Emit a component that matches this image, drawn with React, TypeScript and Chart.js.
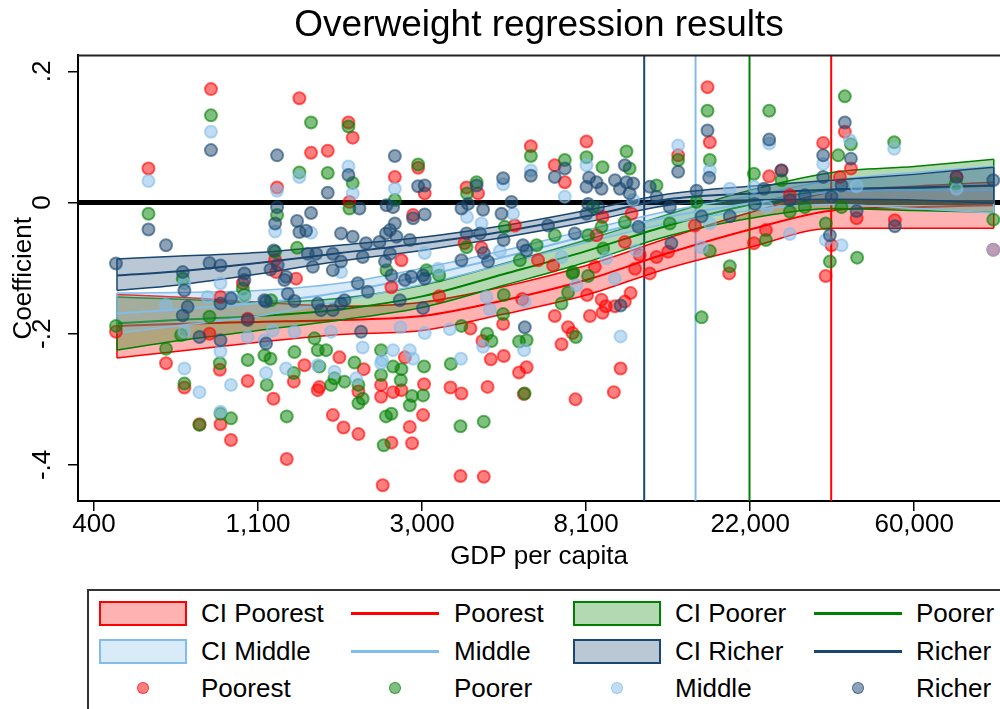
import { useEffect, useRef } from 'react';
import { Chart, registerables } from 'chart.js';

Chart.register(...registerables);

const FONT = "'Liberation Sans', Arial, sans-serif";

// Colours (r,g,b)
const RED = '255,0,0';
const GREEN = '0,128,0';
const LTBLUE = '130,188,232';
const NAVY = '26,71,111';

// Axis ticks: log GDP per capita, labelled in dollars
const xTickValues = [6, 7, 8, 9, 10, 11];
const xTickLabels = ['400', '1,100', '3,000', '8,100', '22,000', '60,000'];
const yTickValues = [-0.4, -0.2, 0, 0.2];
const yTickLabels = ['-.4', '-.2', '0', '.2'];

// Turning points (log GDP) for richer, middle, poorer, poorest
const thresholdX = [9.354, 9.667, 9.996, 10.494];

// Fitted curves and confidence bands on a log-GDP grid
const fitX = [6.14, 6.5, 7.0, 7.5, 8.0, 8.5, 9.0, 9.5, 10.0, 10.5, 11.0, 11.485];

const poorestHi = [-0.140, -0.144, -0.152, -0.158, -0.152, -0.128, -0.096, -0.054, -0.015, 0.016, 0.025, 0.031];
const poorestFit = [-0.188, -0.185, -0.182, -0.179, -0.173, -0.149, -0.118, -0.077, -0.041, -0.012, -0.007, -0.004];
const poorestLo = [-0.237, -0.227, -0.213, -0.201, -0.195, -0.170, -0.141, -0.100, -0.068, -0.039, -0.039, -0.039];

const poorerHi = [-0.144, -0.147, -0.152, -0.146, -0.126, -0.093, -0.057, -0.018, 0.019, 0.046, 0.055, 0.066];
const poorerFit = [-0.184, -0.179, -0.173, -0.163, -0.143, -0.109, -0.074, -0.035, -0.003, 0.019, 0.022, 0.026];
const poorerLo = [-0.225, -0.211, -0.195, -0.179, -0.160, -0.126, -0.091, -0.051, -0.024, -0.009, -0.012, -0.015];

const middleHi = [-0.138, -0.137, -0.134, -0.123, -0.100, -0.073, -0.042, -0.013, 0.010, 0.034, 0.046, 0.055];
const middleFit = [-0.169, -0.163, -0.153, -0.137, -0.112, -0.083, -0.051, -0.022, -0.001, 0.016, 0.019, 0.019];
const middleLo = [-0.199, -0.188, -0.173, -0.150, -0.125, -0.094, -0.061, -0.032, -0.012, -0.003, -0.009, -0.016];

const richerHi = [-0.086, -0.082, -0.076, -0.065, -0.053, -0.035, -0.012, 0.013, 0.025, 0.034, 0.043, 0.054];
const richerFit = [-0.111, -0.105, -0.092, -0.077, -0.062, -0.044, -0.021, 0.005, 0.014, 0.020, 0.023, 0.026];
const richerLo = [-0.134, -0.126, -0.109, -0.089, -0.073, -0.053, -0.030, -0.004, 0.004, 0.005, 0.004, -0.001];

// Country coefficients: [log GDP per capita, coefficient]
const poorestPts: [number, number][] = [
  [6.134, -0.197], [6.332, 0.052], [6.439, -0.245], [6.551, -0.282], [6.643, -0.338], [6.713, 0.173], [6.771, -0.338],
  [6.835, -0.362], [6.767, -0.255], [6.704, -0.200], [6.771, -0.144], [6.907, -0.123], [6.937, -0.177], [6.937, -0.272],
  [7.094, -0.299], [7.116, 0.023], [7.104, -0.087], [7.110, -0.106], [7.218, -0.273], [7.175, -0.391], [7.252, 0.159],
  [7.323, 0.076], [7.425, 0.079], [7.551, 0.122], [7.577, 0.099], [7.557, 0.001], [7.283, -0.248], [7.364, -0.286],
  [7.374, -0.281], [7.496, -0.236], [7.456, -0.324], [7.521, -0.343], [7.612, -0.353], [7.612, -0.288], [7.644, -0.254],
  [7.750, -0.278], [7.750, -0.296], [7.760, -0.431], [7.232, -0.116], [7.834, 0.039], [7.976, 0.053], [8.016, 0.014],
  [7.945, -0.019], [7.874, -0.088], [7.813, -0.129], [7.813, -0.366], [7.939, -0.367], [7.925, -0.342], [8.006, -0.324],
  [8.012, -0.277], [7.874, -0.286], [7.823, -0.289], [7.895, -0.236], [8.104, -0.143], [8.271, 0.023], [8.341, 0.014],
  [8.259, -0.062], [8.362, -0.069], [8.173, -0.282], [8.240, -0.291], [8.399, -0.281], [8.234, -0.417], [8.376, -0.418],
  [8.419, -0.239], [8.498, -0.234], [8.368, -0.211], [8.295, -0.192], [8.494, -0.185], [8.610, -0.147], [8.565, -0.035],
  [8.663, 0.086], [8.809, 0.057], [8.870, 0.031], [8.809, -0.173], [8.850, -0.216], [8.890, -0.190], [8.917, -0.199],
  [8.935, -0.300], [9.023, -0.173], [9.006, -0.141], [8.591, -0.259], [8.637, -0.251], [8.620, -0.292], [8.707, -0.088],
  [8.799, -0.096], [9.002, 0.093], [9.100, -0.022], [9.277, -0.017], [9.063, -0.050], [9.236, -0.060], [9.053, -0.098],
  [9.327, -0.080], [9.298, -0.101], [9.388, -0.108], [9.429, -0.083], [9.500, -0.075], [9.561, 0.072], [9.094, -0.148],
  [9.100, -0.168], [9.120, -0.158], [9.176, -0.158], [9.236, -0.151], [9.271, -0.138], [9.210, -0.253], [9.169, -0.289],
  [9.663, -0.035], [9.740, 0.176], [9.754, 0.092], [9.872, -0.108], [10.023, -0.062], [10.096, -0.042], [10.116, 0.040],
  [10.191, 0.049], [10.242, 0.011], [10.445, 0.091], [10.547, 0.039], [10.577, 0.108], [10.614, 0.052], [10.649, -0.024],
  [10.496, -0.065], [10.460, -0.112], [10.882, -0.027], [11.258, 0.039], [11.482, -0.072],
];

const poorerPts: [number, number][] = [
  [6.134, -0.188], [6.332, -0.017], [6.439, -0.223], [6.541, -0.116], [6.551, -0.276], [6.531, -0.202], [6.643, -0.339],
  [6.704, -0.174], [6.713, 0.133], [6.767, -0.245], [6.771, -0.322], [6.835, -0.329], [6.907, -0.131], [6.917, -0.141],
  [6.937, -0.240], [7.039, -0.233], [7.053, -0.278], [7.076, -0.238], [7.079, -0.149], [7.222, -0.228], [7.218, -0.260],
  [7.175, -0.326], [7.116, -0.019], [7.104, -0.075], [7.238, -0.069], [7.252, 0.046], [7.323, 0.122], [7.425, 0.045],
  [7.551, 0.116], [7.577, 0.030], [7.557, -0.009], [7.344, -0.207], [7.364, -0.225], [7.374, -0.250], [7.415, -0.225],
  [7.445, -0.278], [7.466, -0.268], [7.527, -0.273], [7.612, -0.306], [7.612, -0.278], [7.638, -0.299], [7.588, -0.244],
  [7.750, -0.263], [7.750, -0.225], [7.780, -0.326], [7.766, -0.370], [7.834, 0.004], [7.976, 0.058], [7.783, -0.103],
  [8.027, -0.103], [8.104, -0.111], [7.813, -0.322], [7.925, -0.309], [7.939, -0.295], [8.006, -0.294], [7.870, -0.271],
  [7.874, -0.254], [8.012, -0.250], [7.823, -0.250], [8.234, -0.341], [8.376, -0.334], [8.175, -0.246], [8.423, -0.211],
  [8.396, -0.200], [8.240, -0.188], [8.494, -0.170], [8.498, -0.141], [8.274, 0.014], [8.332, 0.031], [8.271, -0.068],
  [8.591, -0.212], [8.637, -0.210], [8.625, -0.291], [8.504, -0.037], [8.596, -0.088], [8.663, 0.071], [8.870, 0.065],
  [8.809, -0.050], [8.698, -0.065], [8.850, -0.154], [8.937, -0.205], [8.890, -0.137], [8.917, -0.108], [9.012, -0.112],
  [9.002, 0.069], [9.100, 0.054], [9.246, 0.078], [9.265, 0.052], [9.043, -0.007], [9.236, -0.030], [9.012, -0.050],
  [9.094, -0.037], [9.104, -0.070], [8.921, -0.106], [9.429, 0.026], [9.510, -0.032], [9.561, 0.065], [9.673, 0.001],
  [9.740, 0.140], [9.754, 0.065], [9.754, -0.074], [9.704, -0.175], [9.876, -0.097], [10.023, 0.044], [10.116, 0.140],
  [10.096, -0.057], [10.242, -0.014], [10.333, -0.007], [10.191, 0.034], [10.537, 0.072], [10.577, 0.162], [10.614, 0.089],
  [10.557, -0.007], [10.461, -0.032], [10.486, -0.090], [10.652, -0.084], [10.878, 0.092], [11.254, 0.029], [11.482, -0.026],
];

const middlePts: [number, number][] = [
  [6.332, 0.033], [6.551, -0.253], [6.643, -0.289], [6.713, 0.108], [6.771, -0.319], [6.835, -0.278], [6.771, -0.227],
  [6.551, -0.123], [6.551, -0.197], [6.439, -0.156], [6.693, -0.144], [6.835, -0.146], [6.771, -0.123], [6.917, -0.144],
  [6.937, -0.205], [7.039, -0.210], [7.049, -0.260], [7.089, -0.195], [7.222, -0.197], [7.171, -0.253], [7.116, 0.018],
  [7.104, -0.044], [7.252, 0.039], [7.323, -0.046], [7.551, 0.055], [7.577, 0.014], [7.506, -0.106], [7.364, -0.248],
  [7.466, -0.258], [7.445, -0.197], [7.598, -0.268], [7.638, -0.221], [7.750, -0.245], [7.834, 0.021], [8.016, -0.077],
  [8.098, -0.101], [7.756, -0.240], [7.823, -0.225], [7.925, -0.225], [7.945, -0.238], [7.868, -0.190], [8.016, -0.199],
  [8.169, -0.193], [8.237, -0.238], [8.372, -0.220], [8.393, -0.144], [8.413, -0.163], [8.274, -0.022], [8.362, -0.032],
  [8.474, -0.074], [8.494, 0.028], [8.555, -0.017], [8.622, -0.225], [8.626, -0.151], [8.663, 0.049], [8.870, 0.009],
  [8.850, -0.083], [9.002, 0.057], [9.287, 0.004], [9.124, -0.085], [9.307, -0.073], [8.941, -0.126], [9.175, -0.116],
  [9.210, -0.204], [9.561, 0.087], [9.754, 0.049], [9.754, -0.032], [9.704, -0.068], [9.876, 0.021], [10.023, 0.024],
  [10.116, 0.090], [10.102, -0.007], [10.242, -0.048], [10.445, 0.059], [10.608, 0.095], [10.649, 0.025], [10.461, -0.057],
  [10.557, -0.065], [10.878, 0.082], [11.258, 0.021], [11.482, -0.072],
];

const richerPts: [number, number][] = [
  [6.134, -0.093], [6.332, -0.041], [6.439, -0.065], [6.713, 0.080], [6.704, -0.092], [6.771, -0.096], [6.541, -0.106],
  [6.917, -0.108], [6.541, -0.172], [6.571, -0.159], [6.551, -0.134], [6.643, -0.205], [6.771, -0.210], [6.771, -0.154],
  [6.835, -0.146], [6.917, -0.118], [6.937, -0.179], [7.039, -0.149], [7.049, -0.151], [7.049, -0.215], [7.116, 0.072],
  [7.116, -0.007], [7.104, -0.032], [7.096, -0.073], [7.076, -0.102], [7.120, -0.095], [7.171, -0.113], [7.161, -0.118],
  [7.181, -0.139], [7.222, -0.150], [7.238, -0.028], [7.252, -0.045], [7.293, -0.043], [7.323, -0.016], [7.425, 0.015],
  [7.551, 0.042], [7.618, -0.009], [7.506, -0.047], [7.577, -0.052], [7.658, -0.062], [7.740, -0.060], [7.780, -0.047],
  [7.303, -0.078], [7.354, -0.078], [7.334, -0.098], [7.456, -0.078], [7.506, -0.090], [7.456, -0.103], [7.638, -0.083],
  [7.364, -0.154], [7.384, -0.164], [7.456, -0.164], [7.506, -0.154], [7.527, -0.149], [7.608, -0.123], [7.669, -0.136],
  [7.628, -0.197], [7.834, 0.071], [7.823, -0.007], [7.783, -0.004], [7.976, 0.025], [8.016, 0.026], [8.016, -0.018],
  [7.945, -0.024], [7.834, -0.032], [7.804, -0.042], [7.844, -0.052], [7.925, -0.057], [7.804, -0.078], [7.774, -0.090],
  [7.935, -0.113], [8.006, -0.111], [7.813, -0.111], [7.895, -0.118], [8.016, -0.116], [7.864, -0.149], [8.006, -0.161],
  [8.332, 0.026], [8.240, -0.009], [8.280, -0.002], [8.372, -0.011], [8.271, -0.047], [8.353, -0.047], [8.376, -0.077],
  [8.402, -0.090], [8.240, -0.088], [8.494, 0.037], [8.484, -0.017], [8.545, 0.001], [8.497, -0.057], [8.615, -0.065],
  [8.636, -0.073], [8.663, 0.041], [8.626, -0.190], [8.768, -0.035], [8.809, 0.039], [8.870, 0.052], [8.931, -0.047],
  [9.018, 0.038], [9.002, 0.024], [9.063, 0.031], [9.094, 0.021], [9.176, 0.034], [9.236, 0.057], [9.246, 0.031],
  [9.287, 0.029], [9.206, 0.021], [9.265, 0.014], [9.012, -0.002], [9.002, -0.017], [9.073, -0.007], [9.319, -0.037],
  [9.210, -0.157], [9.388, 0.024], [9.429, 0.009], [9.510, -0.007], [9.520, -0.062], [9.561, 0.047], [9.673, 0.018],
  [9.704, -0.021], [9.740, 0.110], [9.750, 0.038], [9.876, -0.021], [10.029, -0.002], [10.084, 0.021], [10.116, 0.096],
  [10.191, 0.049], [10.242, 0.004], [10.333, 0.011], [10.445, 0.072], [10.445, 0.039], [10.557, 0.026], [10.496, 0.009],
  [10.577, 0.122], [10.614, 0.067], [10.649, -0.013], [10.486, -0.050], [10.882, -0.036], [11.258, 0.039], [11.482, 0.034],
];

const rgba = (c: string, a: number) => `rgba(${c},${a})`;

const groups = [
  { color: RED, lo: poorestLo, hi: poorestHi, fit: poorestFit, pts: poorestPts },
  { color: GREEN, lo: poorerLo, hi: poorerHi, fit: poorerFit, pts: poorerPts },
  { color: LTBLUE, lo: middleLo, hi: middleHi, fit: middleFit, pts: middlePts },
  { color: NAVY, lo: richerLo, hi: richerHi, fit: richerFit, pts: richerPts },
];
const thresholdColors = [NAVY, LTBLUE, GREEN, RED];

const X_MIN = 5.9024;
const X_MAX = 11.523;
const Y_MIN = -0.455;
const Y_MAX = 0.2244;

function buildDatasets() {
  const ds: any[] = [];
  const flat = { type: 'line', pointRadius: 0, fill: false, clip: 0 };
  ds.push({ ...flat, data: [{ x: X_MIN, y: 0 }, { x: X_MAX, y: 0 }], borderColor: '#000', borderWidth: 5 });
  thresholdX.forEach((v, i) => {
    ds.push({
      ...flat,
      data: [{ x: v, y: Y_MIN }, { x: v, y: Y_MAX }],
      borderColor: rgba(thresholdColors[i], 1),
      borderWidth: 2,
    });
  });
  groups.forEach((g) => {
    const last = fitX.length - 1;
    ds.push({
      type: 'line',
      data: fitX.map((x, i) => ({ x, y: g.lo[i] })),
      borderColor: rgba(g.color, 1),
      borderWidth: 1.5,
      pointRadius: 0,
      fill: false,
      cubicInterpolationMode: 'monotone',
    });
    ds.push({
      type: 'line',
      data: fitX.map((x, i) => ({ x, y: g.hi[i] })),
      borderColor: rgba(g.color, 1),
      backgroundColor: rgba(g.color, 0.3),
      borderWidth: 1.5,
      pointRadius: 0,
      fill: '-1',
      cubicInterpolationMode: 'monotone',
    });
    // closing edges of the band
    ds.push({
      type: 'line',
      data: [
        { x: fitX[0], y: g.lo[0] },
        { x: fitX[0], y: g.hi[0] },
        { x: fitX[0], y: null },
        { x: fitX[last], y: g.lo[last] },
        { x: fitX[last], y: g.hi[last] },
      ],
      borderColor: rgba(g.color, 1),
      borderWidth: 1.5,
      pointRadius: 0,
      fill: false,
      spanGaps: false,
      tension: 0,
    });
    ds.push({
      type: 'line',
      data: fitX.map((x, i) => ({ x, y: g.fit[i] })),
      borderColor: rgba(g.color, 1),
      borderWidth: 2,
      pointRadius: 0,
      fill: false,
      cubicInterpolationMode: 'monotone',
    });
  });
  groups.forEach((g) => {
    ds.push({
      type: 'scatter',
      data: g.pts.map(([x, y]) => ({ x, y })),
      showLine: false,
      pointRadius: 6,
      pointBorderWidth: 2,
      backgroundColor: rgba(g.color, 0.5),
      borderColor: rgba(g.color, 0.6),
    });
  });
  ds.forEach((d, i) => {
    d.order = ds.length - i;
  });
  return ds;
}

const framePlugin = {
  id: 'plotFrame',
  afterDatasetsDraw(chart: any) {
    const { ctx, chartArea } = chart;
    ctx.save();
    ctx.strokeStyle = '#222';
    ctx.lineWidth = 2;
    ctx.beginPath();
    ctx.moveTo(chartArea.left, chartArea.top);
    ctx.lineTo(chartArea.right, chartArea.top);
    ctx.stroke();
    ctx.restore();
  },
};

type Key = { kind: 'band' | 'line' | 'dot'; color: string; label: string };
const legendRows: Key[][] = [
  [
    { kind: 'band', color: RED, label: 'CI Poorest' },
    { kind: 'line', color: RED, label: 'Poorest' },
    { kind: 'band', color: GREEN, label: 'CI Poorer' },
    { kind: 'line', color: GREEN, label: 'Poorer' },
  ],
  [
    { kind: 'band', color: LTBLUE, label: 'CI Middle' },
    { kind: 'line', color: LTBLUE, label: 'Middle' },
    { kind: 'band', color: NAVY, label: 'CI Richer' },
    { kind: 'line', color: NAVY, label: 'Richer' },
  ],
  [
    { kind: 'dot', color: RED, label: 'Poorest' },
    { kind: 'dot', color: GREEN, label: 'Poorer' },
    { kind: 'dot', color: LTBLUE, label: 'Middle' },
    { kind: 'dot', color: NAVY, label: 'Richer' },
  ],
];

const keyLeft = [99, 351, 573, 814];
const keyWidth = 88;
const textLeft = [201, 454, 675, 916];
const rowCenter = [613, 651, 688];

function LegendKey({ k, x, cy }: { k: Key; x: number; cy: number }) {
  if (k.kind === 'band') {
    return (
      <div
        style={{
          position: 'absolute', left: x, top: cy - 12.5, width: keyWidth, height: 25, boxSizing: 'border-box',
          background: rgba(k.color, 0.3), border: `2px solid ${rgba(k.color, 1)}`,
        }}
      />
    );
  }
  if (k.kind === 'line') {
    return <div style={{ position: 'absolute', left: x, top: cy - 1.5, width: keyWidth, height: 3, background: rgba(k.color, 1) }} />;
  }
  const cx = x + keyWidth / 2;
  return (
    <div
      style={{
        position: 'absolute', left: cx - 6, top: cy - 6, width: 12, height: 12, boxSizing: 'border-box', borderRadius: '50%',
        background: rgba(k.color, 0.5), border: `1.5px solid ${rgba(k.color, 0.6)}`,
      }}
    />
  );
}

export default function App() {
  const canvasRef = useRef<HTMLCanvasElement>(null);

  useEffect(() => {
    if (!canvasRef.current) return;
    Chart.defaults.font.family = FONT;
    Chart.defaults.color = '#000';
    const chart = new Chart(canvasRef.current, {
      type: 'scatter',
      data: { datasets: buildDatasets() },
      plugins: [framePlugin],
      options: {
        responsive: false,
        animation: false,
        devicePixelRatio: 1,
        events: [],
        layout: { padding: 0, autoPadding: false },
        plugins: {
          legend: { display: false },
          tooltip: { enabled: false },
          title: {
            display: true,
            text: 'Overweight regression results',
            fullSize: false,
            color: '#000',
            font: { size: 37, weight: 'normal', family: FONT },
            padding: { top: 4, bottom: 7 },
          },
        },
        scales: {
          x: {
            type: 'linear',
            min: X_MIN,
            max: X_MAX,
            afterBuildTicks: (scale: any) => {
              scale.ticks = xTickValues.map((v) => ({ value: v }));
            },
            afterFit: (scale: any) => {
              scale.height = 79;
              scale.paddingLeft = 0;
              scale.paddingRight = 0;
            },
            ticks: {
              autoSkip: false,
              maxRotation: 0,
              minRotation: 0,
              padding: 1,
              color: '#000',
              font: { size: 26, lineHeight: 1, family: FONT },
              callback: (v: any) => {
                const i = xTickValues.indexOf(Number(v));
                return i >= 0 ? xTickLabels[i] : '';
              },
            },
            grid: { drawOnChartArea: false, drawTicks: true, tickLength: 10, color: '#000', lineWidth: 1.5 },
            border: { display: true, color: '#000', width: 2 },
            title: {
              display: true,
              text: 'GDP per capita',
              color: '#000',
              font: { size: 26, family: FONT },
              padding: { top: 0, bottom: 8 },
            },
          },
          y: {
            type: 'linear',
            min: Y_MIN,
            max: Y_MAX,
            afterBuildTicks: (scale: any) => {
              scale.ticks = yTickValues.map((v) => ({ value: v }));
            },
            afterFit: (scale: any) => {
              scale.width = 78;
              scale.paddingTop = 0;
              scale.paddingBottom = 0;
            },
            ticks: {
              autoSkip: false,
              minRotation: 90,
              maxRotation: 90,
              crossAlign: 'center',
              padding: 10,
              color: '#000',
              font: { size: 26, family: FONT },
              callback: (v: any) => {
                const i = yTickValues.findIndex((t) => Math.abs(t - Number(v)) < 1e-9);
                return i >= 0 ? yTickLabels[i] : '';
              },
            },
            grid: { drawOnChartArea: false, drawTicks: true, tickLength: 10, color: '#000', lineWidth: 1.5 },
            border: { display: true, color: '#000', width: 2 },
            title: {
              display: true,
              text: 'Coefficient',
              color: '#000',
              font: { size: 26, family: FONT },
              padding: { top: 8, bottom: 0 },
            },
          },
        },
      } as any,
    });
    return () => chart.destroy();
  }, []);

  return (
    <div
      style={{
        position: 'absolute', left: 0, top: 0, width: 1000, height: 709, overflow: 'hidden',
        background: '#fff', fontFamily: FONT, color: '#000',
      }}
    >
      <canvas ref={canvasRef} width={1000} height={580} style={{ position: 'absolute', left: 0, top: 0 }} />
      <div
        style={{
          position: 'absolute', left: 87, top: 589, width: 940, height: 140, boxSizing: 'border-box',
          border: '2px solid #333',
        }}
      />
      {legendRows.map((row, r) =>
        row.map((k, c) => (
          <div key={`${r}-${c}`}>
            <LegendKey k={k} x={keyLeft[c]} cy={rowCenter[r]} />
            <div
              style={{
                position: 'absolute', left: textLeft[c], top: rowCenter[r] - 15, height: 30, lineHeight: '30px',
                fontSize: 26, whiteSpace: 'nowrap',
              }}
            >
              {k.label}
            </div>
          </div>
        )),
      )}
    </div>
  );
}
